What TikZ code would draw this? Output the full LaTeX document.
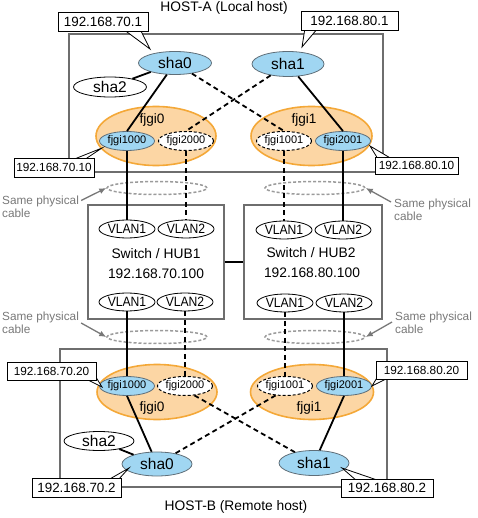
\documentclass[tikz,border=0pt]{standalone}
\usepackage{fontspec}
\usepackage{graphicx}
\setmainfont{Liberation Sans}
\usetikzlibrary{arrows.meta,shapes.geometric}
\definecolor{bluef}{RGB}{160,214,242}
\definecolor{blued}{RGB}{95,110,120}
\definecolor{oranf}{RGB}{252,214,164}
\definecolor{orand}{RGB}{244,168,56}
\definecolor{boxg}{RGB}{110,110,110}
\definecolor{cabg}{RGB}{155,155,155}
\definecolor{txtg}{RGB}{120,120,120}
\newcommand{\fsz}[1]{\fontsize{#1}{#1}\selectfont}
\newcommand{\vltext}[1]{\scalebox{0.9}[1]{#1}}
\begin{document}
\begin{tikzpicture}[x=1pt,y=-1pt,
  hostbox/.style={draw=boxg,line width=1.2pt},
  hubbox/.style={draw=boxg,line width=1.2pt,rectangle,inner sep=0pt},
  shanode/.style={ellipse,draw=blued,line width=0.8pt,fill=bluef,inner sep=0pt,font=\fsz{15.5}},
  shawhite/.style={ellipse,draw=black,line width=0.8pt,fill=white,inner sep=0pt,font=\fsz{15.5}},
  bundle/.style={ellipse,draw=orand,line width=1.6pt,fill=oranf,inner sep=0pt},
  ifblue/.style={ellipse,draw=blued,line width=0.8pt,fill=bluef,inner sep=0pt,minimum width=55pt,minimum height=19pt,font=\fsz{11}},
  ifwhite/.style={ellipse,draw=black,line width=1pt,dash pattern=on 3pt off 2pt,fill=white,inner sep=0pt,minimum width=55pt,minimum height=19pt,font=\fsz{11}},
  vlan/.style={ellipse,draw=black,line width=0.8pt,fill=white,inner sep=0pt,minimum width=56pt,minimum height=18pt,font=\fsz{13.5}},
  cable/.style={ellipse,draw=cabg,line width=1.5pt,dash pattern=on 3pt off 2pt,inner sep=0pt,minimum width=100pt,minimum height=13pt},
  solidln/.style={draw=black,line width=1.8pt},
  dashln/.style={draw=black,line width=1.8pt,dash pattern=on 5pt off 3.5pt},
  ipbig/.style={rectangle,draw=black,line width=0.8pt,fill=white,inner sep=0pt,font=\fsz{13.4}},
  ipsmall/.style={rectangle,draw=black,line width=0.8pt,fill=white,inner sep=0pt,font=\fsz{11.8}},
  wedge/.style={draw=black,line width=0.8pt,fill=white},
  grayarrow/.style={draw=txtg,line width=1.3pt,-{Latex[length=7pt,width=6pt]}},
  graytext/.style={text=txtg,align=left,inner sep=0pt,font=\fontsize{11.8}{13}\selectfont},
  maintext/.style={inner sep=0pt,font=\fsz{13.8}},
  bundletext/.style={inner sep=0pt,font=\fsz{13.6}}
]
\useasboundingbox (0,0) rectangle (477,518);

% host boxes
\draw[hostbox] (69,34) rectangle (383,172);
\draw[hostbox] (60,349) rectangle (387,487);
\node[maintext] (hosta) at (224,8) {HOST-A (Local host)};
\node[maintext] (hostb) at (236,507) {HOST-B (Remote host)};

% switches
\node[hubbox,minimum width=136pt,minimum height=114pt] (hub1) at (156,262) {};
\node[hubbox,minimum width=138pt,minimum height=114pt] (hub2) at (313,262) {};
\draw[line width=1.2pt] (hub1.east) -- (hub2.west);
\node[maintext] (hub1name) at (156,254) {Switch / HUB1};
\node[maintext] (hub1ip) at (156,274) {192.168.70.100};
\node[maintext] (hub2name) at (311,253) {Switch / HUB2};
\node[maintext] (hub2ip) at (312,273) {192.168.80.100};

% cables
\node[cable] (c1) at (157,188) {};
\node[cable] (c2) at (315,188) {};
\node[cable] (c3) at (157,337) {};
\node[cable] (c4) at (315,337) {};

% bundles
\node[bundle,minimum width=120pt,minimum height=59pt] (fjgi0a) at (156,136) {};
\node[bundle,minimum width=121pt,minimum height=59pt] (fjgi1a) at (311.5,136) {};
\node[bundle,minimum width=120pt,minimum height=55pt] (fjgi0b) at (157,392) {};
\node[bundle,minimum width=123pt,minimum height=55pt] (fjgi1b) at (312,392) {};
\node[bundletext] (l0a) at (152,120) {fjgi0};
\node[bundletext] (l1a) at (304,120) {fjgi1};
\node[bundletext] (l0b) at (152,408) {fjgi0};
\node[bundletext] (l1b) at (309,408) {fjgi1};

% top host nodes
\node[shanode,minimum width=73pt,minimum height=23pt] (sha0a) at (175,63) {sha0};
\node[shanode,minimum width=72pt,minimum height=25pt] (sha1a) at (288,64) {sha1};
\node[shawhite,minimum width=73pt,minimum height=20pt] (sha2a) at (110,87) {sha2};
\node[ifblue] (f1000a) at (127,141) {fjgi1000};
\node[ifwhite] (f2000a) at (186,141) {fjgi2000};
\node[ifwhite] (f1001a) at (284,141) {fjgi1001};
\node[ifblue] (f2001a) at (343,141) {fjgi2001};

% VLANs
\node[vlan] (v1a) at (127,229) {\vltext{VLAN1}};
\node[vlan] (v2a) at (186,229) {\vltext{VLAN2}};
\node[vlan] (v3a) at (284,230) {\vltext{VLAN1}};
\node[vlan] (v4a) at (343,230) {\vltext{VLAN2}};
\node[vlan] (v1b) at (127,302) {\vltext{VLAN1}};
\node[vlan] (v2b) at (185,302) {\vltext{VLAN2}};
\node[vlan] (v3b) at (285,303) {\vltext{VLAN1}};
\node[vlan] (v4b) at (344,303) {\vltext{VLAN2}};

% bottom host nodes
\node[ifblue] (f1000b) at (127,386) {fjgi1000};
\node[ifwhite] (f2000b) at (185,386) {fjgi2000};
\node[ifwhite] (f1001b) at (285,386) {fjgi1001};
\node[ifblue] (f2001b) at (344,386) {fjgi2001};
\node[shanode,minimum width=70pt,minimum height=24pt] (sha0b) at (157,464) {sha0};
\node[shanode,minimum width=70pt,minimum height=25pt] (sha1b) at (314,463) {sha1};
\node[shawhite,minimum width=70pt,minimum height=19pt] (sha2b) at (99,441) {sha2};

% connections top
\draw[solidln] (sha0a) -- (sha2a);
\draw[solidln] (sha0a) -- (f1000a.north);
\draw[dashln] (sha0a) -- (f1001a.north);
\draw[dashln] (sha1a) -- (f2000a.north);
\draw[solidln] (sha1a) -- (f2001a.north);
\draw[solidln] (f1000a.south) -- (v1a.north);
\draw[dashln] (f2000a.south) -- (v2a.north);
\draw[dashln] (f1001a.south) -- (v3a.north);
\draw[solidln] (f2001a.south) -- (v4a.north);

% connections bottom
\draw[solidln] (v1b.south) -- (f1000b.north);
\draw[dashln] (v2b.south) -- (f2000b.north);
\draw[dashln] (v3b.south) -- (f1001b.north);
\draw[solidln] (v4b.south) -- (f2001b.north);
\draw[solidln] (f1000b.south) -- (sha0b);
\draw[dashln] (f2000b.-45) -- (sha1b);
\draw[dashln] (f1001b.-135) -- (sha0b);
\draw[solidln] (f2001b.south) -- (sha1b);
\draw[solidln] (sha0b) -- (sha2b);

% callout pointers
\coordinate (p701) at (150,49);
\coordinate (p801) at (302,47);
\coordinate (p7010) at (102,148);
\coordinate (p8010) at (370,146);
\coordinate (p7020) at (102,387);
\coordinate (p8020) at (372,386);
\coordinate (p702) at (129,468);
\coordinate (p802) at (342,468);
\draw[wedge] (123,29) -- (p701) -- (140,29);
\draw[wedge] (305,28) -- (p801) -- (318,28);
\draw[wedge] (72,160) -- (p7010) -- (84,160);
\draw[wedge] (378,159) -- (p8010) -- (392,159);
\draw[wedge] (84,378) -- (p7020) -- (94,374);
\draw[wedge] (378,376) -- (p8020) -- (390,377);
\draw[wedge] (108,480) -- (p702) -- (118,480);
\draw[wedge] (357,481) -- (p802) -- (380,481);

% callout boxes
\node[ipbig,minimum width=90pt,minimum height=19pt] (ip701) at (103,21.5) {192.168.70.1};
\node[ipbig,minimum width=97pt,minimum height=19pt] (ip801) at (349.5,20.5) {192.168.80.1};
\node[ipsmall,minimum width=80pt,minimum height=19pt] (ip7010) at (54,167.5) {192.168.70.10};
\node[ipsmall,minimum width=83pt,minimum height=17pt] (ip8010) at (416.5,165.5) {192.168.80.10};
\node[ipsmall,minimum width=89pt,minimum height=18pt] (ip7020) at (51.5,371) {192.168.70.20};
\node[ipsmall,minimum width=91pt,minimum height=18pt] (ip8020) at (421.5,370) {192.168.80.20};
\node[ipbig,minimum width=89pt,minimum height=19pt] (ip702) at (76.5,487.5) {192.168.70.2};
\node[ipbig,minimum width=92pt,minimum height=18pt] (ip802) at (387,488) {192.168.80.2};

% same physical cable notes
\node[graytext,anchor=west] (t1) at (2,206.5) {Same physical\\cable};
\node[graytext,anchor=west] (t2) at (394,210) {Same physical\\cable};
\node[graytext,anchor=west] (t3) at (2,323) {Same physical\\cable};
\node[graytext,anchor=west] (t4) at (395,323) {Same physical\\cable};
\draw[grayarrow] ([xshift=2pt,yshift=6pt]t1.east) -- (c1.west);
\draw[grayarrow] ([xshift=-3pt,yshift=8pt]t2.west) -- (c2.east);
\draw[grayarrow] ([xshift=2pt]t3.east) -- (c3.west);
\draw[grayarrow] ([xshift=-3pt,yshift=1pt]t4.west) -- (c4.east);
\end{tikzpicture}
\end{document}
